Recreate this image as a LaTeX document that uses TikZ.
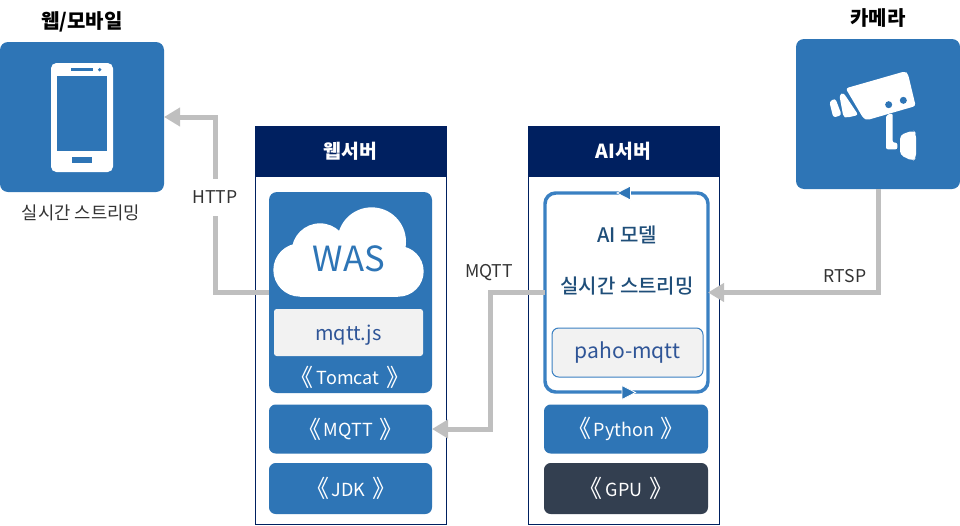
\documentclass[tikz,border=0pt]{standalone}
\usepackage{fontspec}
\setmainfont{Noto Sans CJK KR}
\newfontfamily\medkr{Noto Sans CJK KR Medium}
\usetikzlibrary{arrows.meta}
\definecolor{blu}{HTML}{2E75B6}
\definecolor{ringc}{HTML}{3A80C2}
\definecolor{nav}{HTML}{002060}
\definecolor{dark}{HTML}{333F50}
\definecolor{gry}{HTML}{BFBFBF}
\definecolor{pale}{HTML}{F2F2F2}
\definecolor{ink}{HTML}{2F5597}
\definecolor{deep}{HTML}{1F4E79}
\definecolor{lab}{HTML}{333333}
\newcommand{\angL}{\raisebox{-1.2pt}{\fontsize{18}{18}\selectfont 《}\hspace{2pt}}
\newcommand{\angR}{\hspace{2pt}\raisebox{-1.2pt}{\fontsize{18}{18}\selectfont 》}}
\tikzset{
  sz/.style 2 args={minimum width=#1*0.75pt,minimum height=#2*0.75pt,inner sep=0pt,outer sep=0pt},
  panel/.style={rectangle,draw=nav,line width=0.75pt,fill=white},
  head/.style={rectangle,fill=nav,text=white,font=\fontsize{14.5}{16}\selectfont\bfseries},
  card/.style={rectangle,rounded corners=6pt,fill=blu},
  tile/.style={rectangle,rounded corners=5pt,fill=blu,text=white,font=\fontsize{13.5}{16}\selectfont},
  paletile/.style={rectangle,rounded corners=2pt,fill=pale,text=ink,font=\fontsize{15}{16}\selectfont},
  conn/.style={draw=gry,line width=3.75pt,-{Triangle[length=12pt,width=13.5pt]}},
  conntext/.style={text=lab,font=\fontsize{13.2}{15}\selectfont,inner sep=1pt},
  title/.style={font=\fontsize{15}{18}\selectfont\bfseries,text=black},
  model/.style={text=deep,font=\fontsize{15}{18}\selectfont\medkr}
}
\begin{document}
\begin{tikzpicture}[x=0.75pt,y=-0.75pt]
\useasboundingbox (0,0) rectangle (960,525);
% panels
\node[panel,sz={191}{398},anchor=north west] (webp) at (255,126) {};
\node[panel,sz={191}{398},anchor=north west] (aip) at (528,126) {};
\node[head,sz={191}{51},anchor=north west] (webh) at (255,126) {웹서버};
\node[head,sz={191}{51},anchor=north west] (aih) at (528,126) {AI서버};
% mobile
\node[title] (mt) at (82,22) {웹/모바일};
\node[card,sz={164}{150},anchor=north west] (mobile) at (0,42) {};
\node[text=lab,font=\fontsize{13.3}{16}\selectfont] (ms) at (81,213) {실시간 스트리밍};
\fill[white,rounded corners=4pt] (51,63) rectangle (113,172);
\fill[blu] (57,76) rectangle (107,151);
\fill[blu] (71,68.3) rectangle (92.7,70.7);
\fill[blu] (99.7,69.7) circle[radius=1.8];
\fill[blu] (72.3,157.3) rectangle (91.7,163);
% camera
\node[title] (ct) at (878,18) {카메라};
\node[card,sz={164}{150},anchor=north west] (camera) at (796,39) {};
\begin{scope}[shift={(780,0)},x=0.25pt,y=-0.25pt]
\fill[white,rounded corners=2pt] (197,265) -- (375,214) -- (384,222) -- (407,318) -- (262,360) -- (250,355) -- cycle;
\fill[white,rounded corners=2pt] (178,285) -- (190,278) -- (235,345) -- (200,353) -- (190,350) -- cycle;
\fill[white,rounded corners=2pt] (148,305) -- (166,295) -- (185,345) -- (160,353) -- cycle;
\fill[white,rounded corners=1.5pt] (318,345) -- (338,340) -- (338,428) -- (352,428) -- (352,448) -- (318,448) -- cycle;
\fill[white,rounded corners=3pt] (360,405) -- (400,391) -- (408,400) -- (408,475) -- (398,483) -- (360,465) -- cycle;
\fill[blu] (326,314) circle[radius=10.5];
\fill[blu] (370,301) circle[radius=10.5];
\end{scope}
% web server
\node[card,sz={163}{201},anchor=north west] (tomcat) at (269,192) {};
\begin{scope}[shift={(250,120)},x=0.25pt,y=-0.25pt]
\fill[white] (150,450) circle[radius=80];
\fill[white] (210,395) circle[radius=85];
\fill[white] (365,365) circle[radius=103];
\fill[white] (445,454) circle[radius=76];
\fill[white] (150,400) rectangle (445,530);
\end{scope}
\node[text=blu,font=\fontsize{26}{30}\selectfont,inner sep=0pt] (was) at (349,259) {WAS};
\node[paletile,sz={149}{47},anchor=north west,text depth=0pt] (mqttjs) at (274,309) {mqtt.js};
\node[text=white,font=\fontsize{13.5}{16}\selectfont,inner sep=0pt] (tct) at (350,377) {\angL Tomcat \angR};
\node[tile,sz={163}{49},anchor=north west] (mqtt) at (269,404.5) {\angL MQTT \angR};
\node[tile,sz={163}{51},anchor=north west] (jdk) at (269,463) {\angL JDK \angR};
% AI server
\node[sz={163}{199},anchor=north west,rectangle,rounded corners=8pt,draw=ringc,line width=2.6pt,fill=white] (aimodel) at (545,193) {};
\fill[blu,draw=white,line width=0.6pt] (617,193) -- (630.5,186) -- (630.5,200) -- cycle;
\fill[blu,draw=white,line width=0.6pt] (635.5,392.5) -- (622,385.5) -- (622,399.5) -- cycle;
\node[model] (m1) at (627,235) {AI 모델};
\node[model] (m2) at (627,286) {실시간 스트리밍};
\node[paletile,sz={151}{49},anchor=north west,draw=ringc,line width=0.75pt,rounded corners=5pt,font=\fontsize{15.8}{16}\selectfont] (paho) at (552,328) {paho-mqtt};
\node[tile,sz={164}{49},anchor=north west] (py) at (544,404.5) {\angL Python \angR};
\node[tile,sz={164}{51},anchor=north west,fill=dark] (gpu) at (544,463) {\angL GPU \angR};
% connectors
\path[conn] (tomcat.west) -- ++(-54,0) |- (mobile.east);
\node[conntext,fill=white,minimum height=37*0.75pt] (lhttp) at (215,197) {HTTP};
\path[conn] (aimodel.west) -- ++(-55,0) |- (mqtt.east);
\node[conntext] (lmqtt) at (489,273) {MQTT};
\path[conn] (camera.south) |- (aimodel.east);
\node[conntext] (lrtsp) at (845,276) {RTSP};
\end{tikzpicture}
\end{document}
